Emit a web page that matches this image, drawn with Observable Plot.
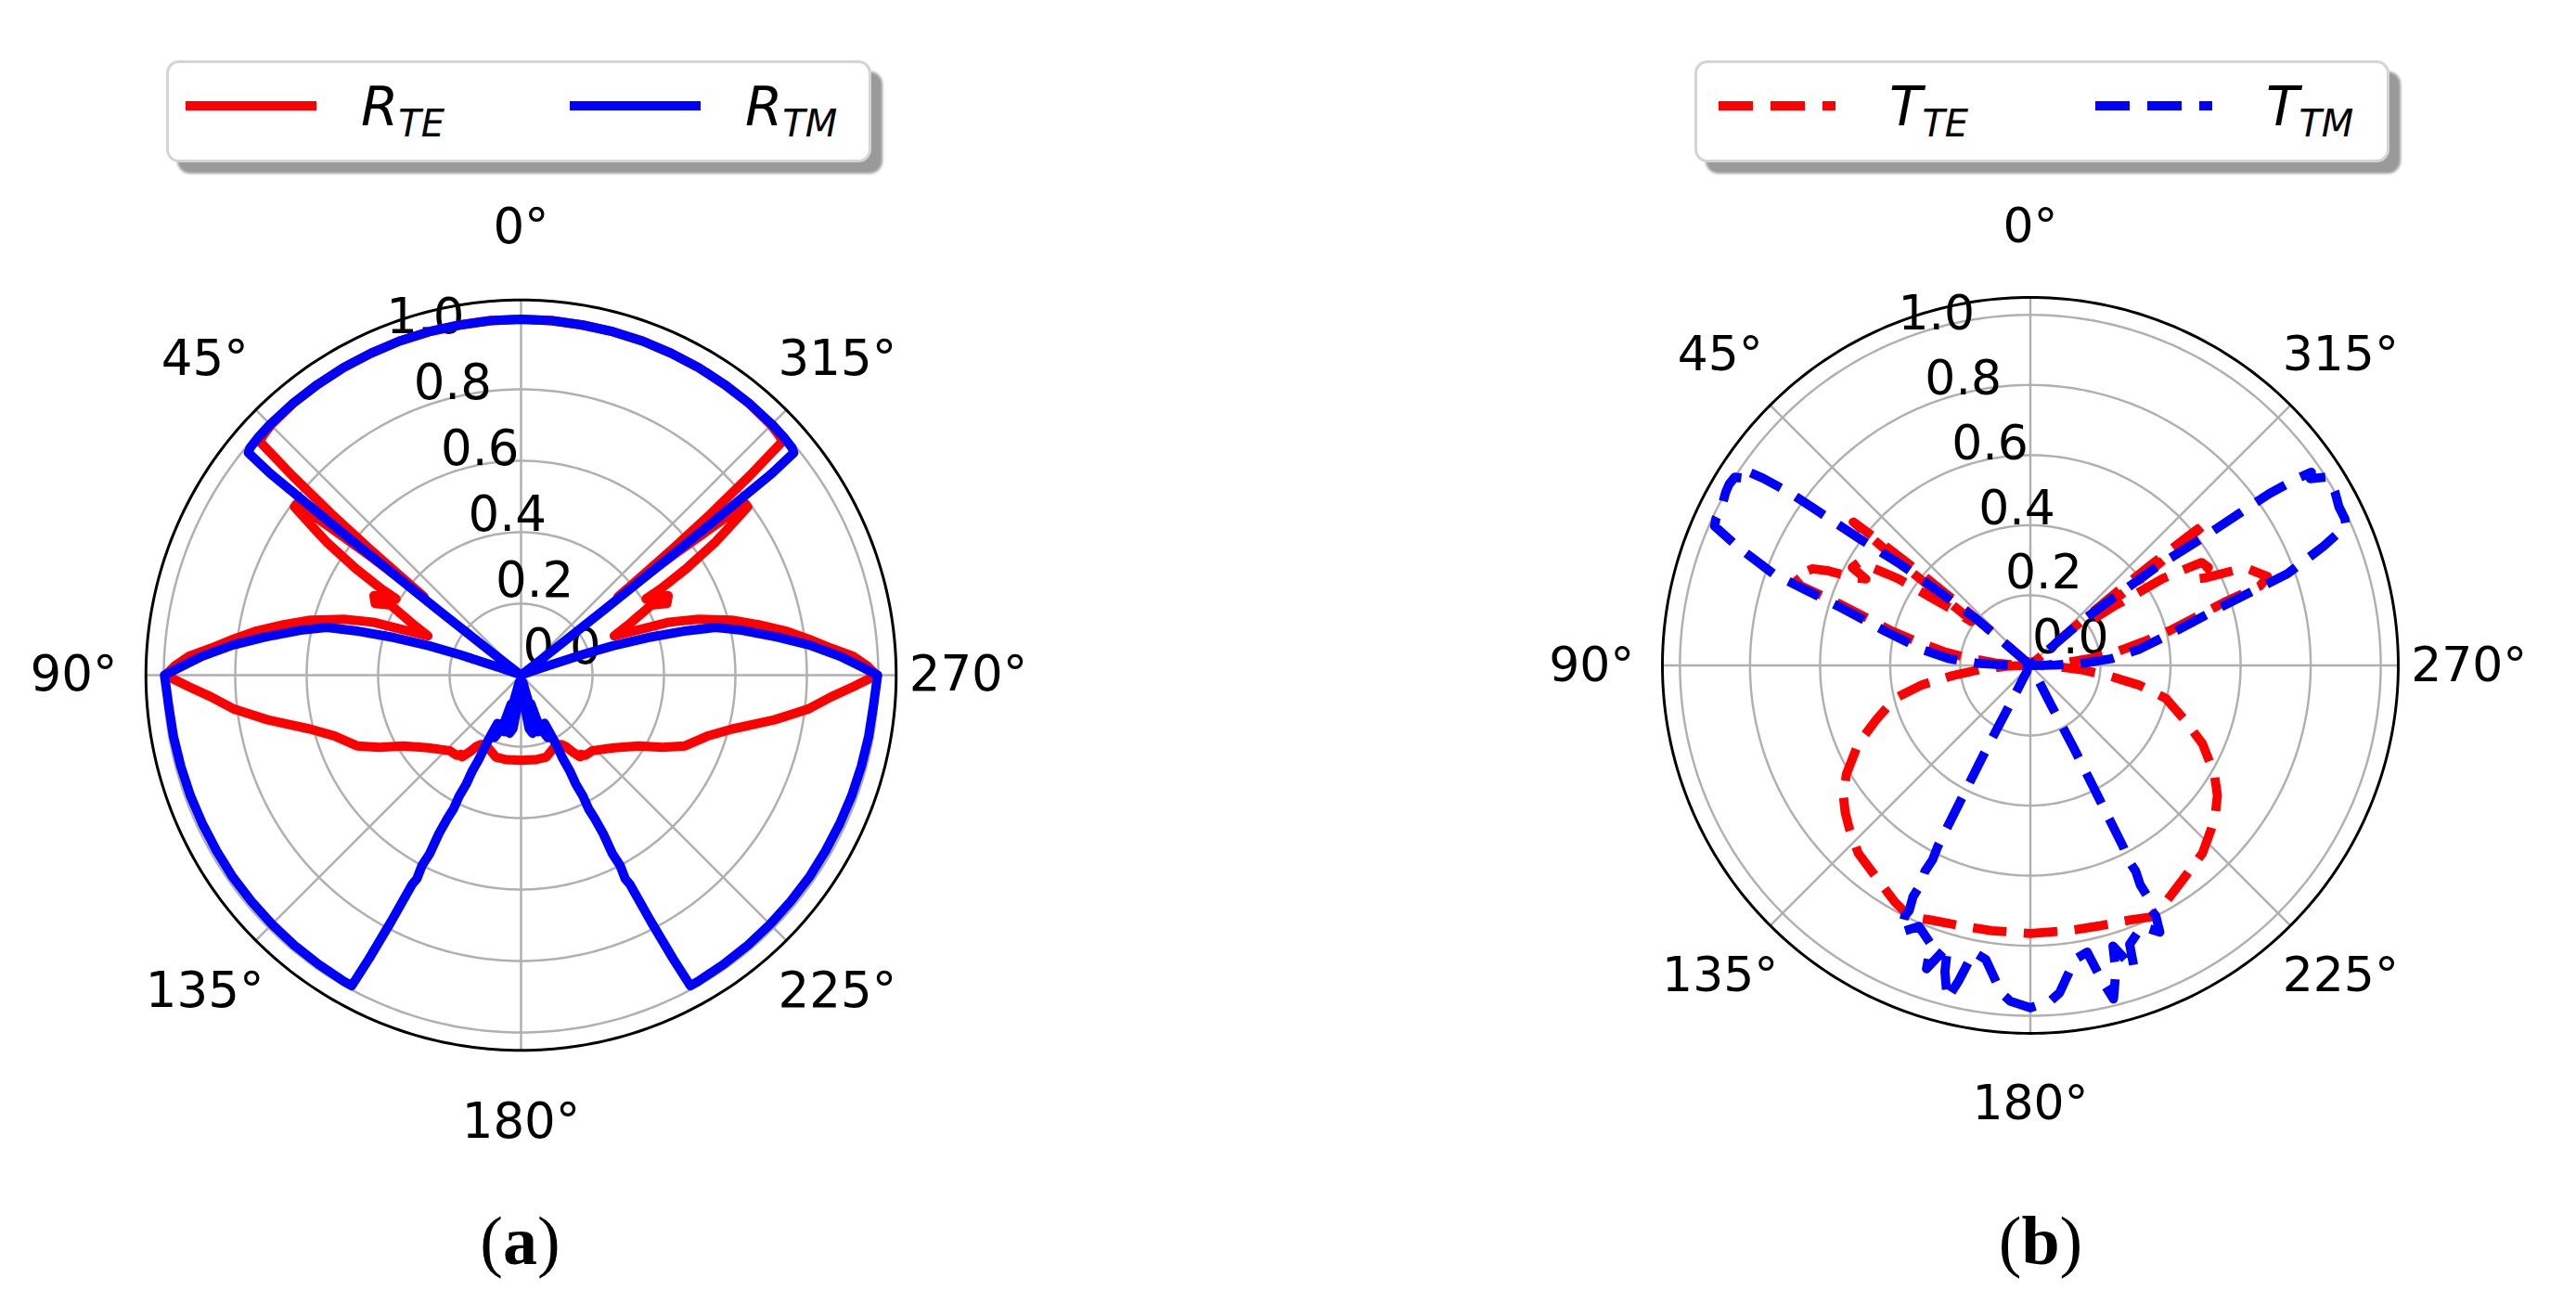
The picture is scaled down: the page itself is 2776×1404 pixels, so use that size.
<!DOCTYPE html>
<html><head><meta charset="utf-8">
<script src="https://cdn.jsdelivr.net/npm/d3@7"></script>
<script src="https://cdn.jsdelivr.net/npm/@observablehq/plot@0.6"></script>
<style>
html,body{margin:0;padding:0;background:#fff;overflow:hidden}
#fig{position:relative;width:2776px;height:1404px;overflow:hidden;background:#fff}
.panel{position:absolute}
.legend{position:absolute;box-sizing:border-box;height:110px;border:3px solid #d4d4d4;border-radius:14px;background:#fff;box-shadow:12px 12px 3px #9a9a9a}
.sw{position:absolute;height:10px}
.lab{position:absolute;font-family:"DejaVu Sans";font-style:italic;font-size:58px;line-height:58px;white-space:nowrap;color:#000}
.lab .s{font-size:40px;position:relative;top:12px}
.cap{position:absolute;width:300px;text-align:center;font-family:"Liberation Serif";font-size:74px;line-height:74px;color:#000}
</style></head>
<body><div id="fig"></div>
<script>
// ---- axis ticks ----
const thetaTicks = [0, 45, 90, 135, 180, 225, 270, 315];
const thetaLabels = ["0°", "45°", "90°", "135°", "180°", "225°", "270°", "315°"];
const rTicks = [0.0, 0.2, 0.4, 0.6, 0.8, 1.0];
const rLabels = ["0.0", "0.2", "0.4", "0.6", "0.8", "1.0"];
const rMax = 1.05;

// ---- series: [angle (deg, counter-clockwise from top), value], 0..180°, mirrored for 180..360° ----
const R_TE = [[0,0.996],[5,0.996],[10,0.995],[15,0.995],[20,0.995],[25,0.994],[30,0.994],[35,0.993],[40,0.993],[45,0.99],[47,0.986],[48.2,0.982],[48.9,0.85],[49.6,0.7],[50.2,0.55],[50.7,0.42],[51.0,0.35],[51.8,0.55],[52.6,0.79],[53.4,0.79],[54.5,0.72],[55.6,0.66],[57.2,0.55],[58.3,0.46],[58.6,0.41],[61.6,0.468],[63.8,0.455],[61.7,0.414],[64.5,0.34],[67.1,0.283],[68.9,0.353],[70.3,0.44],[72.5,0.52],[75.4,0.61],[78,0.68],[80.5,0.75],[82.8,0.81],[85,0.87],[86.7,0.93],[88.5,0.97],[90,0.995],[92,0.93],[94,0.87],[96.7,0.81],[100,0.72],[104.3,0.61],[108,0.55],[113.3,0.5],[117,0.445],[121,0.385],[128,0.33],[136.6,0.291],[141,0.288],[143,0.278],[144.1,0.282],[146,0.26],[148,0.235],[149.7,0.225],[153,0.218],[158,0.228],[163,0.24],[170,0.24],[180,0.238]];

const R_TM = [[0,0.996],[5,0.996],[10,0.995],[15,0.995],[20,0.995],[25,0.994],[30,0.994],[35,0.993],[40,0.993],[45,0.993],[48,0.992],[50,0.99],[50.8,0.985],[51.2,0.9],[51.5,0.6],[51.8,0.3],[52.2,0.08],[53,0.01],[58,0.005],[64,0.005],[69,0.01],[70.5,0.06],[71.5,0.18],[72.3,0.27],[73.5,0.37],[75,0.48],[76.2,0.56],[78.5,0.63],[81.6,0.727],[84,0.81],[86.6,0.894],[88.5,0.95],[90,0.998],[95,0.99],[100,0.988],[105,0.986],[110,0.985],[115,0.984],[120,0.984],[125,0.985],[130,0.985],[135,0.986],[140,0.987],[145,0.988],[150,0.99],[151.4,0.99],[151.8,0.9],[152.2,0.78],[152.5,0.66],[152.9,0.64],[152.5,0.6],[152.9,0.56],[152.6,0.5],[152.8,0.45],[153.2,0.42],[152.9,0.38],[153.3,0.34],[153.0,0.3],[153.4,0.26],[153.1,0.22],[153.5,0.18],[154,0.15],[156.9,0.19],[160.4,0.155],[161.1,0.085],[163.6,0.165],[164.4,0.093],[166,0.02],[167.2,0.077],[168.8,0.166],[171.4,0.151],[174.9,0.062],[176.6,0.04],[180,0.023]];

const T_TE = [[0,0.01],[10,0.01],[20,0.01],[30,0.01],[40,0.012],[46,0.014],[48.2,0.02],[48.9,0.15],[49.6,0.3],[50.2,0.45],[50.7,0.58],[51.0,0.65],[51.8,0.45],[52.6,0.21],[53.4,0.21],[54.5,0.28],[55.6,0.34],[56.7,0.45],[58.3,0.53],[59,0.57],[61.2,0.58],[62.3,0.53],[63.5,0.56],[65,0.64],[66.1,0.68],[69.5,0.723],[70.9,0.694],[72,0.58],[74,0.48],[76,0.41],[78.2,0.33],[81,0.25],[83.3,0.175],[86,0.1],[88,0.05],[90,0.004],[92,0.07],[94.8,0.145],[97.5,0.224],[100.2,0.314],[103.7,0.398],[109.4,0.466],[114.5,0.54],[120.6,0.61],[124.8,0.65],[128.5,0.675],[132.1,0.696],[137.5,0.727],[144,0.748],[150.2,0.778],[154.4,0.796],[158.7,0.78],[165.2,0.769],[171.7,0.765],[180,0.765]];

const T_TM = [[0,0.006],[10,0.006],[20,0.006],[30,0.007],[40,0.008],[46,0.01],[48.5,0.02],[49.3,0.2],[51,0.32],[52.1,0.468],[53.4,0.6],[54,0.74],[54.3,0.84],[55,0.93],[55.5,0.973],[56.3,0.96],[57.5,1.0],[59,1.003],[60.4,1.0],[62.8,0.99],[65,0.99],[66.2,0.985],[67.9,0.903],[70.4,0.778],[71.4,0.68],[73,0.568],[76.8,0.424],[81.7,0.312],[85.3,0.232],[87.7,0.153],[89.2,0.07],[90,0.005],[95,0.008],[110,0.01],[130,0.012],[145,0.015],[150,0.02],[151.8,0.05],[152.4,0.13],[152.3,0.27],[152.7,0.43],[152.9,0.58],[153.3,0.62],[152.9,0.66],[153.4,0.7],[153.1,0.74],[153.7,0.78],[153.4,0.8],[154.1,0.846],[156.9,0.81],[160.4,0.845],[161.1,0.915],[163.6,0.835],[164.4,0.907],[166,0.981],[167.2,0.923],[168.8,0.834],[171.4,0.849],[174.9,0.938],[176.6,0.96],[180,0.977]];

const legendA = [{name:"R", sub:"TE", color:"#ff0000", dash:false}, {name:"R", sub:"TM", color:"#0000ff", dash:false}];
const legendB = [{name:"T", sub:"TE", color:"#ff0000", dash:true}, {name:"T", sub:"TM", color:"#0000ff", dash:true}];

// ---- layout ----
const S = 385;            // px per unit of radius
const W = 1200, H = 1100; // svg size per panel
const LR = 482 / S;       // radius of angle labels
const FS = 53;            // tick label font size
const panels = [
  {cx: 560.5, cy: 727, series: [{data: R_TE, color: "#ff0000", dash: false}, {data: R_TM, color: "#0000ff", dash: false}],
   legend: {left: 179, width: 760, items: legendA, sw: [200, 614], lab: [389, 803]}, caption: "a"},
  {cx: 2199, cy: 727, series: [{data: T_TE, color: "#ff0000", dash: true}, {data: T_TM, color: "#0000ff", dash: true}],
   legend: {left: 1826, width: 749, items: legendB, sw: [1852, 2258], lab: [2036, 2442]}, caption: "b"}
];

const full = half => half.concat(half.slice(0, -1).reverse().map(([t, r]) => [360 - t, r])).map(([t, r]) => ({t, r}));
const X = d => -d.r * Math.sin(d.t * Math.PI / 180);
const Y = d => d.r * Math.cos(d.t * Math.PI / 180);

function polarPanel(series) {
  const rings = rTicks.filter(r => r > 0).flatMap(r => d3.range(0, 361, 1).map(t => ({t, r, ring: r})));
  const outer = d3.range(0, 361, 1).map(t => ({t, r: rMax}));
  const spokes = thetaTicks.map(t => ({t, r: rMax}));
  const lineMarks = series.map(s => {
    const o = {x: X, y: Y, stroke: s.color, strokeWidth: 10, strokeLinejoin: "round", strokeLinecap: s.dash ? "butt" : "round"};
    if (s.dash) o.strokeDasharray = "37,19";
    return Plot.line(full(s.data), o);
  });
  return Plot.plot({
    width: W, height: H, margin: 0,
    x: {domain: [-W / 2 / S, W / 2 / S], axis: null},
    y: {domain: [-H / 2 / S, H / 2 / S], axis: null},
    style: {background: "transparent", overflow: "visible", fontFamily: "DejaVu Sans"},
    marks: [
      Plot.line(rings, {x: X, y: Y, z: "ring", stroke: "#b0b0b0", strokeWidth: 2.5}),
      Plot.link(spokes, {x1: () => 0, y1: () => 0, x2: X, y2: Y, stroke: "#b0b0b0", strokeWidth: 2.5}),
      Plot.line(outer, {x: X, y: Y, stroke: "#000", strokeWidth: 3}),
      Plot.text(rTicks.map((r, i) => ({t: 22.5, r, label: rLabels[i]})), {x: X, y: Y, text: "label", textAnchor: "start", lineAnchor: "bottom", dx: 2, dy: -13, fontSize: FS, fill: "#000"}),
      ...lineMarks,
      Plot.text(thetaTicks.map((t, i) => ({t, r: LR, label: thetaLabels[i]})), {x: X, y: Y, text: "label", textAnchor: "middle", lineAnchor: "middle", fontSize: FS, fill: "#000"})
    ]
  });
}

const fig = document.getElementById("fig");
for (const p of panels) {
  const div = document.createElement("div");
  div.className = "panel";
  div.style.left = (p.cx - W / 2) + "px";
  div.style.top = (p.cy - H / 2) + "px";
  div.appendChild(polarPanel(p.series));
  fig.appendChild(div);

  const box = document.createElement("div");
  box.className = "legend";
  box.style.left = p.legend.left + "px";
  box.style.top = "65px";
  box.style.width = p.legend.width + "px";
  fig.appendChild(box);
  p.legend.items.forEach((it, i) => {
    const sw = document.createElement("div");
    sw.className = "sw";
    sw.style.left = p.legend.sw[i] + "px";
    sw.style.top = "109px";
    sw.style.width = (it.dash ? 126 : 141) + "px";
    sw.style.background = it.dash
      ? `repeating-linear-gradient(to right, ${it.color} 0 37px, transparent 37px 56px)`
      : it.color;
    fig.appendChild(sw);
    const lab = document.createElement("div");
    lab.className = "lab";
    lab.style.left = p.legend.lab[i] + "px";
    lab.style.top = "86px";
    lab.innerHTML = `${it.name}<span class="s">${it.sub}</span>`;
    fig.appendChild(lab);
  });

  const cap = document.createElement("div");
  cap.className = "cap";
  cap.style.left = (p.cx - 150) + "px";
  cap.style.top = "1300px";
  cap.innerHTML = `(<b>${p.caption}</b>)`;
  fig.appendChild(cap);
}
</script></body></html>
